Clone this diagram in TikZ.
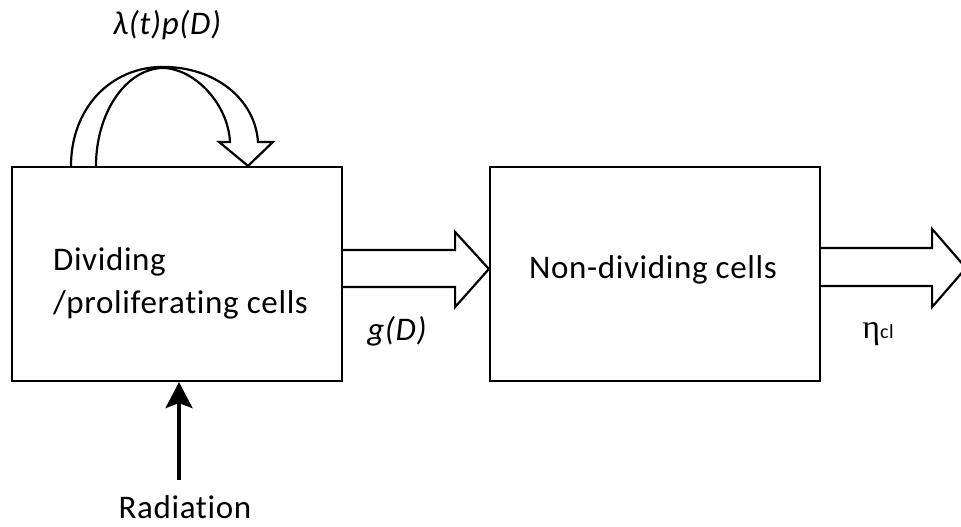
\documentclass[tikz,border=0pt]{standalone}
\usepackage{fontspec}
\setmainfont{Carlito}[LetterSpace=2, Ligatures=NoCommon]
\newfontfamily\etafont{Liberation Serif}
\usetikzlibrary{calc,arrows.meta}
\begin{document}
\begin{tikzpicture}[x=1pt,y=-1pt, line width=2.2pt,
  box/.style={draw, minimum width=330pt, minimum height=214pt, inner sep=0pt},
  lbl/.style={font=\fontsize{33}{39}\selectfont, inner sep=0pt, anchor=base},
  ilbl/.style={lbl, font=\fontsize{33}{39}\selectfont\itshape},
  hollow/.style={draw, line join=miter}]
\useasboundingbox (0,0) rectangle (961,527);
\node[box] (div) at (177,274) {};
\node[box] (nd) at (655,274) {};
\node[lbl, anchor=base west] (t1) at (52,270) {Dividing};
\node[lbl, anchor=base west] (t2) at (52,313) {/proliferating cells};
\node[lbl] (ndtxt) at (653,278) {Non-dividing cells};
\node[ilbl] (lam) at (167,35) {λ(t)p(D)};
\node[ilbl] (g) at (397,340) {g(D)};
\node[lbl] (eta) at (878,338) {{\etafont\fontsize{34}{37}\selectfont η}{\fontsize{20}{22}\selectfont cl}};
\node[lbl] (rad) at (185,518) {Radiation};
% hollow arrow between boxes
\draw[hollow] ($(div.east)+(0,-24)$) -- ++(112,0) -- ++(0,-18) -- ($(nd.west)+(0,-5)$)
  -- ($(div.east)+(112,33)$) -- ++(0,-20) -- ($(div.east)+(0,13)$);
% outgoing hollow arrow
\coordinate (out) at (966,268);
\draw[hollow] ($(nd.east)+(0,-26)$) -- ++(111,0) -- ++(0,-19) -- (out)
  -- ($(nd.east)+(111,33)$) -- ++(0,-21) -- ($(nd.east)+(0,12)$);
% loop arrow
\begin{scope}[shift={(div.north)}]
\draw[hollow] (-106,0) .. controls (-106,-57) and (-67,-99) .. (-14,-99)
  .. controls (38,-99) and (78,-67) .. (81,-24) -- (96,-24) -- (71,0) -- (42,-24) -- (53,-24)
  .. controls (51,-62) and (18,-97) .. (-14,-98)
  .. controls (-52,-97) and (-81,-52) .. (-81,0);
\end{scope}
% radiation arrow
\coordinate (radtop) at (179,480);
\draw[line width=3.5pt, -{Stealth[length=26pt,width=27pt,inset=5pt]}] (radtop) -- (radtop |- div.south);
\end{tikzpicture}
\end{document}
